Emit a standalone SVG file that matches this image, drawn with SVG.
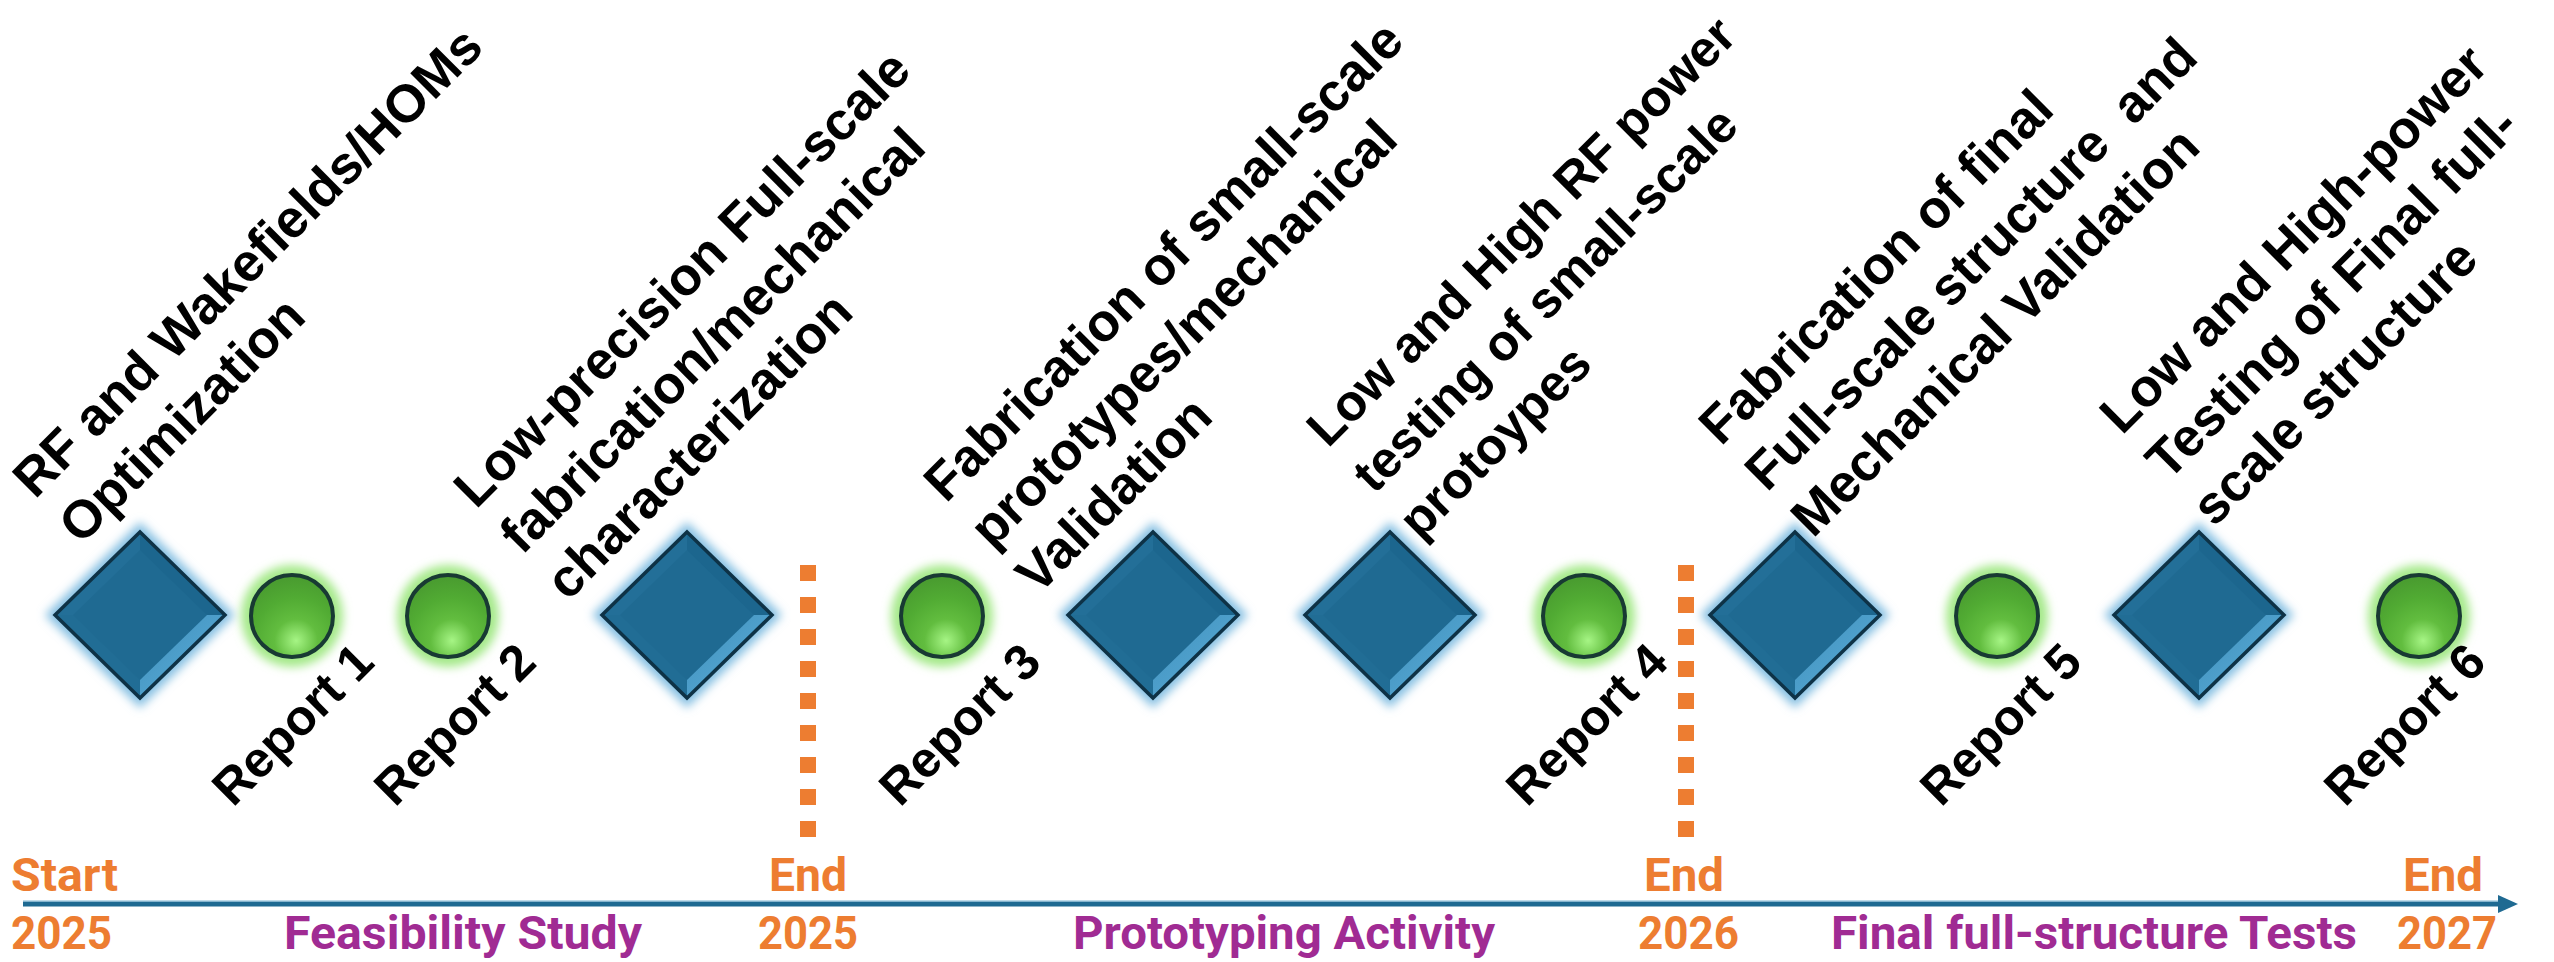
<svg xmlns="http://www.w3.org/2000/svg" xmlns:xlink="http://www.w3.org/1999/xlink" width="2554" height="962" viewBox="0 0 2554 962">
<defs>
<style>
.lbl{font-family:"Liberation Sans",Arial,sans-serif;font-weight:bold;font-size:53px;fill:#000}
.rep{font-family:"Liberation Sans",Arial,sans-serif;font-weight:bold;font-size:50px;fill:#000}
.yr{font-family:Roboto,"Liberation Sans",sans-serif;font-weight:bold;font-size:46px;fill:#ED7D31}
.ph{font-family:Roboto,"Liberation Sans",sans-serif;font-weight:bold;font-size:46px;fill:#A02B93}
</style>
<filter id="blur" x="-30%" y="-30%" width="160%" height="160%"><feGaussianBlur stdDeviation="5"/></filter>
<radialGradient id="gGreen" cx="0.55" cy="0.8" r="0.75">
<stop offset="0" stop-color="#a6f585"/>
<stop offset="0.35" stop-color="#62bd3f"/>
<stop offset="0.7" stop-color="#51ab33"/>
<stop offset="1" stop-color="#4a9d30"/>
</radialGradient>
<linearGradient id="gFacet" x1="0" y1="0" x2="1" y2="1">
<stop offset="0" stop-color="#3f8fbb"/>
<stop offset="1" stop-color="#5db0dc"/>
</linearGradient>
<g id="diamond">
<polygon points="0,-93 95,0 0,93 -95,0" fill="#86c0e2" filter="url(#blur)"/>
<polygon points="0,-83 85,0 0,83 -85,0" fill="#1F6A92"/>
<polygon points="-85,0 0,-83 0,-65 -67,0" fill="#236f98"/>
<polygon points="0,-83 85,0 67,0 0,-65" fill="#1c668e"/>
<polygon points="85,0 0,83 0,65 67,0" fill="url(#gFacet)"/>
<polygon points="0,83 -85,0 -67,0 0,65" fill="#216d95"/>
<polygon points="0,-83 85,0 0,83 -85,0" fill="none" stroke="#0e3246" stroke-width="3.5"/>
</g>
<g id="dot">
<circle r="51" fill="#a5e98a" filter="url(#blur)"/>
<circle r="41" fill="url(#gGreen)" stroke="#183a33" stroke-width="4"/>
</g>
</defs>
<rect width="2554" height="962" fill="#ffffff"/>

<g id="timeline">
<line x1="23" y1="904" x2="2500" y2="904" stroke="#1F6A92" stroke-width="5"/>
<line x1="23" y1="901" x2="2500" y2="901" stroke="#7fb6d3" stroke-width="1"/>
<polygon points="2498,895 2518,904 2498,913" fill="#1F6A92"/>
<line x1="808" y1="565" x2="808" y2="838" stroke="#ED7D31" stroke-width="16" stroke-dasharray="16 16"/>
<line x1="1686" y1="565" x2="1686" y2="838" stroke="#ED7D31" stroke-width="16" stroke-dasharray="16 16"/>
</g>

<g id="m1"><use xlink:href="#diamond" x="140" y="615"/>
<text class="lbl" transform="translate(35,500) rotate(-45)"><tspan x="0" y="0">RF and Wakefields/HOMs</tspan><tspan x="0" y="65">Optimization</tspan></text></g>
<g id="r1"><use xlink:href="#dot" x="292" y="616"/>
<text class="rep" transform="translate(233,808) rotate(-45)">Report 1</text></g>
<g id="r2"><use xlink:href="#dot" x="448" y="616"/>
<text class="rep" transform="translate(395,808) rotate(-45)">Report 2</text></g>
<g id="m2"><use xlink:href="#diamond" x="687" y="615"/>
<text class="lbl" transform="translate(476,510) rotate(-45)"><tspan x="0" y="0">Low-precision Full-scale</tspan><tspan x="0" y="65">fabrication/mechanical</tspan><tspan x="0" y="130">characterization</tspan></text></g>
<g id="r3"><use xlink:href="#dot" x="942" y="616"/>
<text class="rep" transform="translate(900,808) rotate(-45)">Report 3</text></g>
<g id="m3"><use xlink:href="#diamond" x="1153" y="615"/>
<text class="lbl" transform="translate(946,504) rotate(-45)"><tspan x="0" y="0">Fabrication of small-scale</tspan><tspan x="0" y="65">prototypes/mechanical</tspan><tspan x="0" y="130">Validation</tspan></text></g>
<g id="m4"><use xlink:href="#diamond" x="1390" y="615"/>
<text class="lbl" style="font-size:51px" transform="translate(1328,449) rotate(-45)"><tspan x="0" y="0">Low and High RF power</tspan><tspan x="0" y="65">testing of small-scale</tspan><tspan x="0" y="130">protoypes</tspan></text></g>
<g id="r4"><use xlink:href="#dot" x="1584" y="616"/>
<text class="rep" transform="translate(1527,808) rotate(-45)">Report 4</text></g>
<g id="m5"><use xlink:href="#diamond" x="1795" y="615"/>
<text class="lbl" transform="translate(1721,447) rotate(-45)"><tspan x="0" y="0">Fabrication of final</tspan><tspan x="0" y="65" xml:space="preserve">Full-scale structure  and</tspan><tspan x="0" y="130">Mechanical Validation</tspan></text></g>
<g id="r5"><use xlink:href="#dot" x="1997" y="616"/>
<text class="rep" transform="translate(1941,808) rotate(-45)">Report 5</text></g>
<g id="m6"><use xlink:href="#diamond" x="2199" y="615"/>
<text class="lbl" transform="translate(2122,436) rotate(-45)"><tspan x="0" y="0">Low and High-power</tspan><tspan x="0" y="65">Testing of Final full-</tspan><tspan x="0" y="130">scale structure</tspan></text></g>
<g id="r6"><use xlink:href="#dot" x="2419" y="616"/>
<text class="rep" transform="translate(2345,808) rotate(-45)">Report 6</text></g>

<g id="axis-labels">
<text class="yr" x="11" y="891" textLength="107" lengthAdjust="spacingAndGlyphs">Start</text>
<text class="yr" x="11" y="949" textLength="101" lengthAdjust="spacingAndGlyphs">2025</text>
<text class="yr" x="769" y="891" textLength="78" lengthAdjust="spacingAndGlyphs">End</text>
<text class="yr" x="758" y="949" textLength="100" lengthAdjust="spacingAndGlyphs">2025</text>
<text class="ph" x="284" y="949" textLength="358" lengthAdjust="spacingAndGlyphs">Feasibility Study</text>
<text class="ph" x="1073" y="949" textLength="422" lengthAdjust="spacingAndGlyphs">Prototyping Activity</text>
<text class="yr" x="1644" y="891" textLength="80" lengthAdjust="spacingAndGlyphs">End</text>
<text class="yr" x="1638" y="949" textLength="101" lengthAdjust="spacingAndGlyphs">2026</text>
<text class="ph" x="1831" y="949" textLength="526" lengthAdjust="spacingAndGlyphs">Final full-structure Tests</text>
<text class="yr" x="2403" y="891" textLength="80" lengthAdjust="spacingAndGlyphs">End</text>
<text class="yr" x="2397" y="949" textLength="100" lengthAdjust="spacingAndGlyphs">2027</text>
</g>
</svg>
